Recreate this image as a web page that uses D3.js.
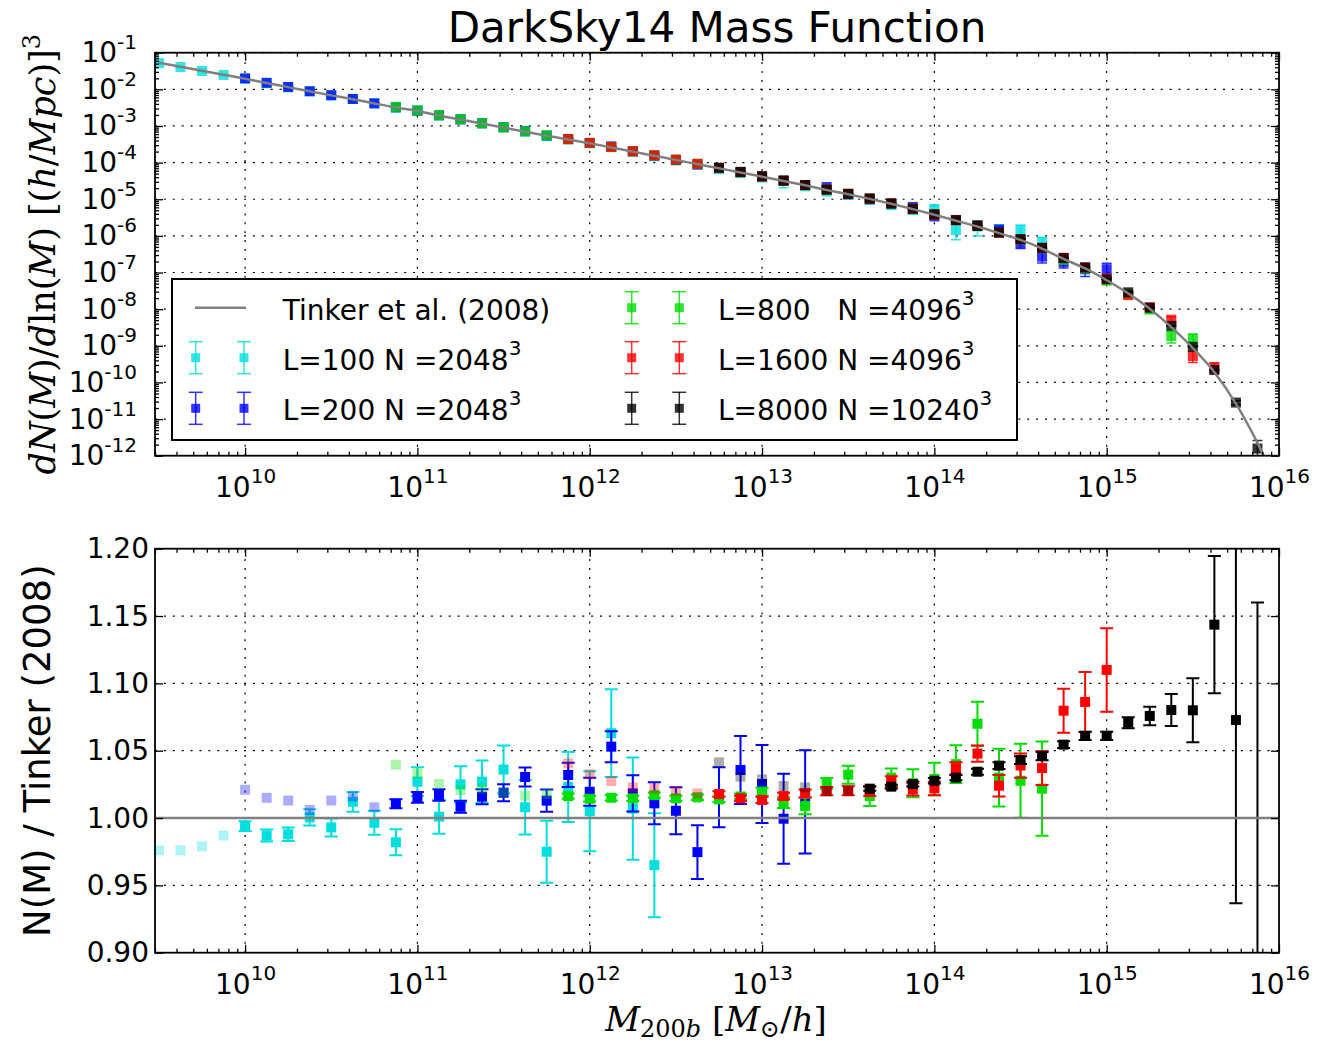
<!DOCTYPE html>
<html lang="en">
<head>
<meta charset="UTF-8">
<title>DarkSky14 Mass Function</title>
<script src="https://cdn.jsdelivr.net/npm/d3@7"></script>
<style>
  body { margin: 0; background: #fff; }
  svg { font-family: "DejaVu Sans", sans-serif; }
</style>
</head>
<body>
<div id="chart"></div>
<script>
// bin centres, log10(M200b / (Msun/h))
var logMass = [9.5, 9.625, 9.75, 9.875, 10, 10.125, 10.25, 10.375, 10.5, 10.625,
  10.75, 10.875, 11, 11.125, 11.25, 11.375, 11.5, 11.625, 11.75, 11.875,
  12, 12.125, 12.25, 12.375, 12.5, 12.625, 12.75, 12.875, 13, 13.125,
  13.25, 13.375, 13.5, 13.625, 13.75, 13.875, 14, 14.125, 14.25, 14.375,
  14.5, 14.625, 14.75, 14.875, 15, 15.125, 15.25, 15.375, 15.5, 15.625,
  15.75, 15.875, 16];

// Tinker et al. (2008), log10 dN/dlnM [(h/Mpc)^3]
var tinkerLog = [-1.273, -1.382, -1.491, -1.600, -1.710, -1.828, -1.940, -2.055, -2.165, -2.270,
  -2.385, -2.495, -2.590, -2.715, -2.825, -2.935, -3.045, -3.155, -3.265, -3.372,
  -3.473, -3.585, -3.700, -3.812, -3.928, -4.040, -4.155, -4.268, -4.385, -4.500,
  -4.620, -4.745, -4.862, -4.990, -5.125, -5.270, -5.425, -5.585, -5.745, -5.925,
  -6.110, -6.345, -6.630, -6.890, -7.210, -7.570, -7.990, -8.490, -9.060, -9.720,
  -10.580, -11.650, -12.900];

// N(M)/Tinker and its error, each box starts at its own first bin
var ratioL100 = [0.976, 0.976, 0.979, 0.987, 0.994, 0.987, 0.988, 1.0005, 0.993, 1.012,
  0.9965, 0.982, 1.027, 1.001, 1.025, 1.027, 1.036, 1.008, 0.975, 1.023,
  1.005, 1.063, 1.007, 0.965, 0.96, 0.95, 0.94, 0.95, 0.95, 1.0,
  0.94, 0.9, 0.95, 0.95, 1.0, 0.95, 1.45, 0.55, 1.0, 1.3,
  1.9, 1.5];
var errL100 = [0.003, 0.003, 0.003, 0.003, 0.0037, 0.0045, 0.005, 0.006, 0.0067, 0.0074,
  0.009, 0.0097, 0.0107, 0.0126, 0.0134, 0.0158, 0.0178, 0.0203, 0.023, 0.026,
  0.0297, 0.0326, 0.038, 0.0386, 0.06, 0.07, 0.08, 0.09, 0.1, 0.35,
  0.12, 0.14, 0.16, 0.18, 0.3, 0.22, 0.3, 0.25, 0.45, 0.4,
  0.6, 0.5];

var ratioL200 = [1.021, 1.015, 1.013, 1.006, 1.013, 1.016, 1.008, 1.0106, 1.0154, 1.0171,
  1.0084, 1.0158, 1.0188, 1.0305, 1.0129, 1.032, 1.0195, 1.053, 1.0183, 1.0109,
  1.0054, 0.9747, 1.0154, 1.0357, 1.0253, 0.9995, 1.012, 1.2, 1.0, 0.97,
  1.02, 1.15, 0.9, 1.05, 1.1, 1.25, 0.8, 0.6, 0.82, 0.95,
  2.0];
var errL200 = [0.003, 0.003, 0.003, 0.003, 0.003, 0.003, 0.003, 0.0033, 0.004, 0.0042,
  0.0045, 0.0056, 0.0063, 0.007, 0.0082, 0.009, 0.0104, 0.0115, 0.0134, 0.0156,
  0.0175, 0.02, 0.0223, 0.0253, 0.029, 0.0334, 0.0384, 0.06, 0.07, 0.08,
  0.09, 0.1, 0.12, 0.14, 0.17, 0.2, 0.22, 0.2, 0.25, 0.35,
  0.9];

var ratioL800 = [1.0396, 1.033, 1.0253, 1.0208, 1.022, 1.019, 1.0166, 1.018, 1.0163, 1.0143,
  1.0151, 1.0146, 1.017, 1.0146, 1.0154, 1.0139, 1.016, 1.0195, 1.0114, 1.0089,
  1.0258, 1.0322, 1.0163, 1.030, 1.0258, 1.029, 1.040, 1.070, 1.030, 1.0277,
  1.0218, 0.95, 1.0, 0.97, 0.93, 0.95, 0.57, 1.8];
var errL800 = [0.003, 0.003, 0.003, 0.003, 0.003, 0.003, 0.003, 0.003, 0.002, 0.002,
  0.002, 0.002, 0.002, 0.002, 0.002, 0.002, 0.002, 0.003, 0.004, 0.006,
  0.004, 0.0067, 0.0074, 0.0067, 0.0104, 0.012, 0.014, 0.0163, 0.0215, 0.0275,
  0.035, 0.045, 0.06, 0.08, 0.12, 0.18, 0.2, 0.6];

var ratioL1600 = [1.0406, 1.0325, 1.0275, 1.0228, 1.022, 1.020, 1.0183, 1.0178, 1.0146, 1.0134,
  1.0163, 1.0183, 1.020, 1.0203, 1.020, 1.027, 1.0213, 1.022, 1.0369, 1.0478,
  1.024, 1.039, 1.0371, 1.0797, 1.0862, 1.110, 0.9, 1.1, 1.6, 0.6,
  1.37];
var errL1600 = [0.003, 0.003, 0.003, 0.003, 0.003, 0.003, 0.003, 0.002, 0.002, 0.0022,
  0.0025, 0.0028, 0.003, 0.0033, 0.0037, 0.004, 0.0045, 0.005, 0.0045, 0.006,
  0.008, 0.009, 0.0126, 0.0163, 0.0223, 0.031, 0.06, 0.1, 0.3, 0.2,
  0.4];

var ratioL8000 = [1.0414, 1.0307, 1.0287, 1.0238, 1.0228, 1.020, 1.0203, 1.0218, 1.0233, 1.0253,
  1.0277, 1.030, 1.0344, 1.0389, 1.043, 1.046, 1.0545, 1.061, 1.061, 1.0708,
  1.0758, 1.0802, 1.080, 1.1436, 1.0728, 0.7];
var errL8000 = [0.002, 0.002, 0.002, 0.002, 0.002, 0.002, 0.002, 0.0015, 0.0015, 0.0018,
  0.002, 0.002, 0.0022, 0.0025, 0.0028, 0.003, 0.0025, 0.003, 0.003, 0.0041,
  0.0069, 0.0119, 0.0238, 0.051, 0.136, 0.46];

// first = first bin, resolved = first bin drawn solid in the ratio panel,
// lastRatio = last bin shown in the ratio panel
var series = [
  {label: "L=100 N =2048", sup: "3", color: "#00dede", first: 0, resolved: 4, lastRatio: 23, ratio: ratioL100, err: errL100},
  {label: "L=200 N =2048", sup: "3", color: "#0000ff", first: 4, resolved: 11, lastRatio: 30, ratio: ratioL200, err: errL200},
  {label: "L=800   N =4096", sup: "3", color: "#00dd00", first: 11, resolved: 19, lastRatio: 41, ratio: ratioL800, err: errL800},
  {label: "L=1600 N =4096", sup: "3", color: "#ff0000", first: 19, resolved: 26, lastRatio: 44, ratio: ratioL1600, err: errL1600},
  {label: "L=8000 N =10240", sup: "3", color: "#000000", first: 26, resolved: 33, lastRatio: 51, ratio: ratioL8000, err: errL8000}
];

// ---------- layout ----------
var X0 = 155, X1 = 1279;
var TOP = [52.7, 455.7], BOT = [548.7, 952.7];

var svg = d3.select("#chart").append("svg")
  .attr("width", 1320).attr("height", 1046);
svg.append("rect").attr("width", 1320).attr("height", 1046).attr("fill", "#fff");

var x = d3.scaleLog().domain([3e9, 1e16]).range([X0, X1]);
var yN = d3.scaleLog().domain([1e-12, 1e-1]).range([TOP[1], TOP[0]]);
var yR = d3.scaleLinear().domain([0.9, 1.2]).range([BOT[1], BOT[0]]);

var xMajor = d3.range(10, 17).map(function(e) { return Math.pow(10, e); });
var xMinor = [];
d3.range(9, 16).forEach(function(e) {
  d3.range(2, 10).forEach(function(m) {
    var v = m * Math.pow(10, e);
    if (v >= 3e9 && v < 1e16) xMinor.push(v);
  });
});
var yNMajor = d3.range(-12, 0).map(function(e) { return Math.pow(10, e); });
var yNMinor = [];
d3.range(-12, -1).forEach(function(e) {
  d3.range(2, 10).forEach(function(m) { yNMinor.push(m * Math.pow(10, e)); });
});
var yRMajor = d3.range(0, 7).map(function(i) { return 0.9 + 0.05 * i; });

// clip paths
var defs = svg.append("defs");
defs.append("clipPath").attr("id", "clipTop").append("rect")
  .attr("x", X0).attr("y", TOP[0]).attr("width", X1 - X0).attr("height", TOP[1] - TOP[0]);
defs.append("clipPath").attr("id", "clipBot").append("rect")
  .attr("x", X0).attr("y", BOT[0]).attr("width", X1 - X0).attr("height", BOT[1] - BOT[0]);

// ---------- grid ----------
function grid(yScale, yVals, py) {
  var g = svg.append("g").attr("stroke", "#000").attr("stroke-width", 1.2)
    .attr("stroke-dasharray", "2,6.9");
  g.selectAll(null).data(xMajor.filter(function(v) { return v < 1e16; })).join("line")
    .attr("x1", function(d) { return x(d); }).attr("x2", function(d) { return x(d); })
    .attr("y1", py[1]).attr("y2", py[0]);
  g.selectAll(null).data(yVals).join("line")
    .attr("x1", X0).attr("x2", X1)
    .attr("y1", function(d) { return yScale(d); }).attr("y2", function(d) { return yScale(d); });
}
grid(yN, yNMajor.slice(1), TOP);
grid(yR, yRMajor.slice(1, 6), BOT);

// ---------- points ----------
function pointsOf(s) {
  return s.ratio.map(function(r, i) {
    var k = s.first + i;
    var t = Math.pow(10, tinkerLog[k]);
    return {k: k, m: Math.pow(10, logMass[k]), r: r, e: s.err[i], n: t * r, ne: t * s.err[i]};
  });
}

function errorbars(g, pts, color, ylo, yhi, alpha, lw, cap) {
  g.selectAll(null).data(pts).join("line")
    .attr("x1", function(d) { return x(d.m); }).attr("x2", function(d) { return x(d.m); })
    .attr("y1", ylo).attr("y2", yhi)
    .attr("stroke", color).attr("stroke-width", lw).attr("stroke-opacity", alpha);
  [ylo, yhi].forEach(function(fy) {
    g.selectAll(null).data(pts).join("line")
      .attr("x1", function(d) { return x(d.m) - cap; }).attr("x2", function(d) { return x(d.m) + cap; })
      .attr("y1", fy).attr("y2", fy)
      .attr("stroke", color).attr("stroke-width", lw).attr("stroke-opacity", alpha);
  });
}

function markers(g, pts, color, yv, alpha, size) {
  g.selectAll(null).data(pts).join("rect")
    .attr("x", function(d) { return x(d.m) - size / 2; })
    .attr("y", function(d) { return yv(d) - size / 2; })
    .attr("width", size).attr("height", size)
    .attr("fill", color).attr("fill-opacity", alpha);
}

// top panel
var topLayer = svg.append("g").attr("clip-path", "url(#clipTop)");
series.forEach(function(s) {
  var pts = pointsOf(s);
  var g = topLayer.append("g");
  errorbars(g, pts, s.color,
    function(d) { return yN(Math.max(d.n - d.ne, 1e-14)); },
    function(d) { return yN(d.n + d.ne); }, 0.8, 1.5, 5);
  markers(g, pts, s.color, function(d) { return yN(d.n); }, 0.8, 10);
});

var tinkerLine = d3.line()
  .x(function(d, i) { return x(Math.pow(10, logMass[i])); })
  .y(function(d) { return yN(Math.pow(10, d)); })
  .curve(d3.curveMonotoneX);
topLayer.append("path").datum(tinkerLog)
  .attr("d", tinkerLine)
  .attr("fill", "none").attr("stroke", "#808080").attr("stroke-width", 2.5);

// bottom panel
var botLayer = svg.append("g").attr("clip-path", "url(#clipBot)");
series.forEach(function(s) {
  var pts = pointsOf(s).filter(function(d) { return d.k <= s.lastRatio; });
  var faded = pts.filter(function(d) { return d.k < s.resolved; });
  var solid = pts.filter(function(d) { return d.k >= s.resolved; });
  var g = botLayer.append("g");
  var yv = function(d) { return yR(d.r); };
  markers(g, faded, s.color, yv, 0.32, 10);
  errorbars(g, solid, s.color,
    function(d) { return yR(d.r - d.e); },
    function(d) { return yR(d.r + d.e); }, 1, 2, 6.5);
  markers(g, solid, s.color, yv, 1, 10);
});
botLayer.append("line")
  .attr("x1", X0).attr("x2", X1).attr("y1", yR(1)).attr("y2", yR(1))
  .attr("stroke", "#808080").attr("stroke-width", 2.5);

// ---------- frames and axes ----------
function powLabels(axisG, supDy) {
  axisG.selectAll(".tick text").each(function(d) {
    var e = Math.round(Math.log10(d));
    var t = d3.select(this).text(null);
    t.append("tspan").text("10");
    t.append("tspan").attr("font-size", 20).attr("dy", supDy).text(e);
  });
}

function axes(yScale, yMaj, yMin, py, leftPad) {
  var g = svg.append("g");
  g.append("rect").attr("x", X0).attr("y", py[0]).attr("width", X1 - X0).attr("height", py[1] - py[0])
    .attr("fill", "none").attr("stroke", "#000").attr("stroke-width", 1.8);
  function add(axis, tr) {
    var a = g.append("g").attr("transform", tr).call(axis);
    a.select(".domain").remove();
    a.attr("font-size", 28).attr("font-family", null);
    a.selectAll(".tick line").attr("stroke-width", 1.3);
    return a;
  }
  var bt = "translate(0," + py[1] + ")", tp = "translate(0," + py[0] + ")";
  var lf = "translate(" + X0 + ",0)", rt = "translate(" + X1 + ",0)";
  var xb = add(d3.axisBottom(x).tickValues(xMajor).tickSizeInner(-8).tickSizeOuter(0).tickPadding(21), bt);
  powLabels(xb, -14);
  add(d3.axisBottom(x).tickValues(xMinor).tickSizeInner(-4).tickSizeOuter(0).tickFormat(""), bt);
  add(d3.axisTop(x).tickValues(xMajor).tickSizeInner(-8).tickSizeOuter(0).tickFormat(""), tp);
  add(d3.axisTop(x).tickValues(xMinor).tickSizeInner(-4).tickSizeOuter(0).tickFormat(""), tp);
  var yl = add(d3.axisLeft(yScale).tickValues(yMaj).tickSizeInner(-8).tickSizeOuter(0).tickPadding(leftPad), lf);
  add(d3.axisRight(yScale).tickValues(yMaj).tickSizeInner(-8).tickSizeOuter(0).tickFormat(""), rt);
  if (yMin) {
    add(d3.axisLeft(yScale).tickValues(yMin).tickSizeInner(-4).tickSizeOuter(0).tickFormat(""), lf);
    add(d3.axisRight(yScale).tickValues(yMin).tickSizeInner(-4).tickSizeOuter(0).tickFormat(""), rt);
  }
  return yl;
}

var ylTop = axes(yN, yNMajor, yNMinor, TOP, 18);
powLabels(ylTop, -13);
var ylBot = axes(yR, yRMajor, null, BOT, 6);
ylBot.selectAll(".tick text").text(function(d) { return d3.format(".2f")(d); });

// ---------- titles ----------
svg.append("text").attr("x", 717).attr("y", 42).attr("text-anchor", "middle")
  .attr("font-size", 42).text("DarkSky14 Mass Function");

svg.append("text").attr("transform", "translate(50," + (BOT[0] + BOT[1]) / 2 + ") rotate(-90)")
  .attr("text-anchor", "middle").attr("font-size", 37).text("N(M) / Tinker (2008)");

function mathText(t, parts) {
  parts.forEach(function(p) {
    var s = t.append("tspan").text(p.t);
    if (p.i) s.attr("font-style", "italic");
    if (p.s) s.attr("font-size", p.s);
    if (p.dy) s.attr("dy", p.dy);
  });
}

var xl = svg.append("text").attr("x", 716).attr("y", 1031).attr("text-anchor", "middle")
  .attr("font-family", "DejaVu Serif").attr("font-size", 34);
mathText(xl, [{t: "M", i: 1}, {t: "200", s: 24, dy: 6}, {t: "b", i: 1, s: 24},
  {t: "\u00a0[", dy: -6}, {t: "M", i: 1}, {t: "\u2299", s: 24, dy: 6}, {t: "/", dy: -6},
  {t: "h", i: 1}, {t: "]"}]);

var yl = svg.append("text").attr("transform", "translate(55," + (TOP[0] + TOP[1]) / 2 + ") rotate(-90)")
  .attr("text-anchor", "middle").attr("font-family", "DejaVu Serif").attr("font-size", 35);
mathText(yl, [{t: "dN", i: 1}, {t: "("}, {t: "M", i: 1}, {t: ")/"}, {t: "d", i: 1}, {t: "ln("},
  {t: "M", i: 1}, {t: ")\u00a0[("}, {t: "h", i: 1}, {t: "/"}, {t: "Mpc", i: 1}, {t: ")]"},
  {t: "3", s: 24, dy: -15}]);

// ---------- legend ----------
var leg = svg.append("g");
leg.append("rect").attr("x", 172).attr("y", 279).attr("width", 845).attr("height", 161)
  .attr("fill", "#fff").attr("stroke", "#000").attr("stroke-width", 2);
var rowY = [307.7, 357.7, 408.3];
var cols = [{hx: [195.7, 244], tx: 282.7}, {hx: [631.7, 679.3], tx: 718}];

leg.append("line").attr("x1", 195).attr("x2", 246).attr("y1", rowY[0]).attr("y2", rowY[0])
  .attr("stroke", "#808080").attr("stroke-width", 2.5);
leg.append("text").attr("x", cols[0].tx).attr("y", rowY[0] + 12).attr("font-size", 28)
  .text("Tinker et al. (2008)");

series.forEach(function(s, i) {
  var c = i < 2 ? cols[0] : cols[1];
  var ry = i < 2 ? rowY[i + 1] : rowY[i - 2];
  c.hx.forEach(function(hx) {
    leg.append("line").attr("x1", hx).attr("x2", hx).attr("y1", ry - 16).attr("y2", ry + 16)
      .attr("stroke", s.color).attr("stroke-width", 1.5).attr("stroke-opacity", 0.8);
    [ry - 16, ry + 16].forEach(function(cy) {
      leg.append("line").attr("x1", hx - 7).attr("x2", hx + 7).attr("y1", cy).attr("y2", cy)
        .attr("stroke", s.color).attr("stroke-width", 1.5).attr("stroke-opacity", 0.8);
    });
    leg.append("rect").attr("x", hx - 4.5).attr("y", ry - 4.5).attr("width", 9).attr("height", 9)
      .attr("fill", s.color).attr("fill-opacity", 0.8);
  });
  var t = leg.append("text").attr("x", c.tx).attr("y", ry + 12).attr("font-size", 28)
    .style("white-space", "pre");
  t.append("tspan").text(s.label);
  t.append("tspan").attr("font-size", 20).attr("dy", -15).text(s.sup);
});
</script>
</body>
</html>
